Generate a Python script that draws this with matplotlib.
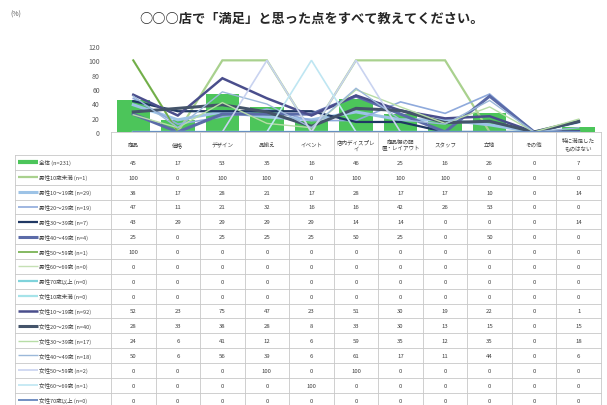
import matplotlib
matplotlib.use("Agg")
import matplotlib.pyplot as plt
import numpy as np

plt.rcParams['font.family'] = ['Noto Sans CJK JP', 'DejaVu Sans']

title = "○○○店で「満足」と思った点をすべて教えてください。"
categories = ["商品", "価格", "デザイン", "品揃え", "イベント", "店内ディスプレ\nイ",
              "商品棚の配\n置・レイアウト", "スタッフ", "立地", "その他", "特に満足した\nものはない"]
yticks = [0, 20, 40, 60, 80, 100, 120]

series_names = ["全体 (n=231)", "男性10歳未満 (n=1)", "男性10～19歳 (n=29)", "男性20～29歳 (n=19)",
                "男性30～39歳 (n=7)", "男性40～49歳 (n=4)", "男性50～59歳 (n=1)", "男性60～69歳 (n=0)",
                "男性70歳以上 (n=0)", "女性10歳未満 (n=0)", "女性10～19歳 (n=92)", "女性20～29歳 (n=40)",
                "女性30～39歳 (n=17)", "女性40～49歳 (n=18)", "女性50～59歳 (n=2)", "女性60～69歳 (n=1)",
                "女性70歳以上 (n=0)"]

total      = [45, 17, 53, 35, 16, 46, 25, 16, 26, 0, 7]
m_u10      = [100, 0, 100, 100, 0, 100, 100, 100, 0, 0, 0]
m_10s      = [38, 17, 28, 21, 17, 28, 17, 17, 10, 0, 14]
m_20s      = [47, 11, 21, 32, 16, 16, 42, 26, 53, 0, 0]
m_30s      = [43, 29, 29, 29, 29, 14, 14, 0, 0, 0, 14]
m_40s      = [25, 0, 25, 25, 25, 50, 25, 0, 50, 0, 0]
m_50s      = [100, 0, 0, 0, 0, 0, 0, 0, 0, 0, 0]
m_60s      = [0, 0, 0, 0, 0, 0, 0, 0, 0, 0, 0]
m_70p      = [0, 0, 0, 0, 0, 0, 0, 0, 0, 0, 0]
f_u10      = [0, 0, 0, 0, 0, 0, 0, 0, 0, 0, 0]
f_10s      = [52, 23, 75, 47, 23, 51, 30, 19, 22, 0, 1]
f_20s      = [28, 33, 38, 28, 8, 33, 30, 13, 15, 0, 15]
f_30s      = [24, 6, 41, 12, 6, 59, 35, 12, 35, 0, 18]
f_40s      = [50, 6, 56, 39, 6, 61, 17, 11, 44, 0, 6]
f_50s      = [0, 0, 0, 100, 0, 100, 0, 0, 0, 0, 0]
f_60s      = [0, 0, 0, 0, 100, 0, 0, 0, 0, 0, 0]
f_70p      = [0, 0, 0, 0, 0, 0, 0, 0, 0, 0, 0]

line_series = [m_u10, m_10s, m_20s, m_30s, m_40s, m_50s, m_60s, m_70p,
               f_u10, f_10s, f_20s, f_30s, f_40s, f_50s, f_60s, f_70p]
all_series = [total] + line_series

bar_color = '#4CC55A'
line_colors = ['#A9D18E', '#9DC3E6', '#8FAADC', '#203864', '#5B6BA8', '#70AD47', '#C5E0B4',
               '#7FD3DB', '#A6E3E9', '#4A4E8C', '#44546A', '#B7DDA6', '#9BB8D9', '#C9D3F0',
               '#BFE6F2', '#5B7DB8']
line_widths = [1.6, 2.2, 1.2, 1.6, 2.2, 1.2, 1.0, 1.6, 1.6, 1.8, 2.2, 1.0, 1.0, 1.2, 1.2, 1.2]

W, H = 607, 406
fig = plt.figure(figsize=(W / 100, H / 100), dpi=100)
fig.patch.set_facecolor('white')

x0, x1 = 111, 601
y_top, y_bot = 47, 133
ax = fig.add_axes([x0 / W, (H - y_bot) / H, (x1 - x0) / W, (y_bot - y_top) / H])
x = np.arange(len(categories))
ax.bar(x, total, width=0.75, color=bar_color, zorder=1)
for s, c, lw in zip(line_series, line_colors, line_widths):
    ax.plot(x, s, color=c, lw=lw, zorder=2, solid_joinstyle='miter')
ax.set_xlim(-0.5, len(categories) - 0.5)
ax.set_ylim(0, 120)
ax.set_yticks(yticks)
ax.set_yticklabels([str(v) for v in yticks], fontsize=5, color='#595959')
ax.tick_params(axis='y', length=0, pad=8)
ax.set_xticks([])
for sp in ax.spines.values():
    sp.set_visible(False)

# overlay for title and table
tax = fig.add_axes([0, 0, 1, 1])
tax.set_xlim(0, W)
tax.set_ylim(H, 0)
tax.axis('off')
tax.patch.set_alpha(0)

tax.text(312, 19, title, ha='center', va='center', fontsize=9.5, fontweight='bold', color='#262626')
tax.text(10, 15, "(%)", ha='left', va='center', fontsize=5, color='#595959')

colw = (x1 - x0) / len(categories)
hdr_top = 133
hdr_bot = 156
rowh = 14.85
grid_c = '#C8C8C8'
nrows = len(all_series)
table_bottom = hdr_bot + rowh * nrows
for k in range(len(categories) + 1):
    xx = min(x0 + k * colw, W - 1)
    tax.plot([xx, xx], [hdr_top, table_bottom], color=grid_c, lw=0.6)
tax.plot([15, 15], [hdr_bot, table_bottom], color=grid_c, lw=0.6)
tax.plot([x0, x1], [hdr_top, hdr_top], color=grid_c, lw=0.6)
for i in range(nrows + 1):
    yy = hdr_bot + i * rowh
    tax.plot([15, x1], [yy, yy], color=grid_c, lw=0.6)

for k, cat in enumerate(categories):
    tax.text(x0 + (k + 0.5) * colw, (hdr_top + hdr_bot) / 2 + 1, cat, ha='center', va='center',
             fontsize=4, color='#404040', linespacing=1.5)

swatch_colors = [bar_color] + line_colors
swatch_widths = [3.0] + line_widths
for i, (name, vals) in enumerate(zip(series_names, all_series)):
    yc = hdr_bot + (i + 0.5) * rowh
    tax.plot([18, 38], [yc, yc], color=swatch_colors[i], lw=swatch_widths[i], solid_capstyle='butt')
    tax.text(39, yc, name, ha='left', va='center', fontsize=4, color='#404040')
    for k, v in enumerate(vals):
        tax.text(x0 + (k + 0.5) * colw, yc, str(v), ha='center', va='center', fontsize=4.3, color='#404040')

fig.savefig('out.png', dpi=100, facecolor='white')
